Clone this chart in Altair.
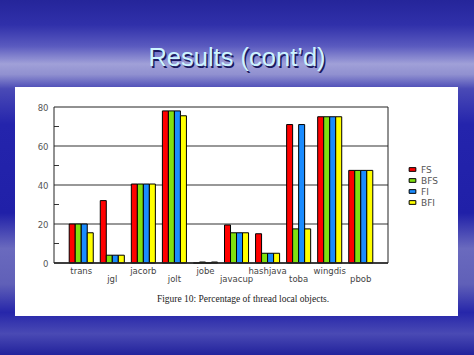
import altair as alt
import pandas as pd

categories = ["trans", "jgl", "jacorb", "jolt", "jobe", "javacup", "hashjava", "toba", "wingdis", "pbob"]
series = ["FS", "BFS", "FI", "BFI"]
fs_vals = [20, 32, 40.5, 78, 0, 19.5, 15, 71, 75, 47.5]
bfs_vals = [20, 4, 40.5, 78, 0.5, 15.5, 5, 17.5, 75, 47.5]
fi_vals = [20, 4, 40.5, 78, 0, 15.5, 5, 71, 75, 47.5]
bfi_vals = [15.5, 4, 40.5, 75.5, 0.5, 15.5, 5, 17.5, 75, 47.5]
colors = ["#ff0000", "#80e010", "#1a8cff", "#ffff00"]
y_ticks = [0, 20, 40, 60, 80]
grid_vals = [20, 40, 60]
minor_ticks = [10, 30, 50, 70]
title_text = "Results (cont\u2019d)"
caption_text = "Figure 10: Percentage of thread local objects."

W, H = 334, 156
PL, PT = 54, 107

rows = []
for s, vals in zip(series, [fs_vals, bfs_vals, fi_vals, bfi_vals]):
    for c, v in zip(categories, vals):
        rows.append({"cat": c, "series": s, "value": v})
df = pd.DataFrame(rows)

lab = pd.DataFrame({"cat": categories, "row": [i % 2 for i in range(len(categories))]})
one = pd.DataFrame({"a": [0]})

xscale = alt.Scale(domain=categories, paddingInner=0.226, paddingOuter=0.49)
yscale = alt.Scale(domain=[0, 80], nice=False)
yaxis = alt.Axis(values=y_ticks, grid=False, domain=False, ticks=False,
                 labelPadding=6, labelFont="DejaVu Sans", labelFontSize=8.5,
                 labelColor="#555555", title=None, zindex=1,
                 labelOverlap=False, labelFlush=False)

bg = alt.Chart(one).mark_rect(
    fill=alt.Gradient(
        gradient="linear", x1=0, x2=0, y1=0, y2=1,
        stops=[
            alt.GradientStop(offset=0, color="#25259a"),
            alt.GradientStop(offset=0.07, color="#3030aa"),
            alt.GradientStop(offset=0.13, color="#5a5abf"),
            alt.GradientStop(offset=0.18, color="#a0a0d8"),
            alt.GradientStop(offset=0.21, color="#9090d0"),
            alt.GradientStop(offset=0.25, color="#4a4ab6"),
            alt.GradientStop(offset=0.35, color="#2424ac"),
            alt.GradientStop(offset=0.6, color="#2020a8"),
            alt.GradientStop(offset=0.7, color="#6a6abe"),
            alt.GradientStop(offset=0.8, color="#6060b8"),
            alt.GradientStop(offset=0.88, color="#2626aa"),
            alt.GradientStop(offset=0.94, color="#4a4ab4"),
            alt.GradientStop(offset=1, color="#22229c"),
        ],
    )
).encode(x=alt.value(-PL), x2=alt.value(474 - PL), y=alt.value(-PT), y2=alt.value(355 - PT))

white = alt.Chart(one).mark_rect(fill="white").encode(
    x=alt.value(15 - PL), x2=alt.value(458 - PL), y=alt.value(87 - PT), y2=alt.value(316 - PT)
)

title_shadow = alt.Chart(pd.DataFrame({"t": [title_text]})).mark_text(
    font="Liberation Sans", fontSize=25.5, color="#1a1a60", align="center", baseline="middle"
).encode(text="t:N", x=alt.value(237 - PL + 1.5), y=alt.value(58 - PT + 1.5))
title_main = alt.Chart(pd.DataFrame({"t": [title_text]})).mark_text(
    font="Liberation Sans", fontSize=25.5, color="#cdf4ff", align="center", baseline="middle"
).encode(text="t:N", x=alt.value(237 - PL), y=alt.value(58 - PT))

caption = alt.Chart(pd.DataFrame({"t": [caption_text]})).mark_text(
    font="Liberation Serif", fontSize=9.5, color="#222222", align="center", baseline="middle"
).encode(text="t:N", x=alt.value(243 - PL), y=alt.value(299 - PT))

grid = alt.Chart(pd.DataFrame({"v": grid_vals})).mark_rule(color="#333333", strokeWidth=1.2).encode(
    y=alt.Y("v:Q", scale=yscale, axis=yaxis),
    x=alt.value(0), x2=alt.value(W),
)

minor = alt.Chart(pd.DataFrame({"v": minor_ticks})).mark_rule(color="#333333", strokeWidth=1).encode(
    y=alt.Y("v:Q", scale=yscale, axis=yaxis), x=alt.value(0), x2=alt.value(5)
)

bars = alt.Chart(df).mark_bar(stroke="black", strokeWidth=1).encode(
    x=alt.X("cat:N", scale=xscale, sort=categories, axis=None),
    xOffset=alt.XOffset("series:N", sort=series, scale=alt.Scale(domain=series)),
    y=alt.Y("value:Q", scale=yscale, axis=yaxis),
    color=alt.Color("series:N", sort=series, scale=alt.Scale(domain=series, range=colors),
                    legend=alt.Legend(title=None, orient="none", legendX=354, legendY=58,
                                      symbolType="M-1,-0.55H1V0.55H-1Z", symbolSize=45,
                                      symbolStrokeColor="black", symbolStrokeWidth=1,
                                      labelFont="DejaVu Sans", labelFontSize=9, labelColor="#555555",
                                      rowPadding=1, labelOffset=4)),
)

frame = alt.Chart(one).mark_rect(fill=None, stroke="#222222", strokeWidth=1).encode(
    x=alt.value(0), x2=alt.value(W), y=alt.value(0), y2=alt.value(H)
)
base_line = alt.Chart(one).mark_rule(color="#222222", strokeWidth=1.6).encode(
    x=alt.value(0), x2=alt.value(W), y=alt.value(H), y2=alt.value(H)
)

lab1 = alt.Chart(lab).transform_filter("datum.row == 0").mark_text(
    font="DejaVu Sans", fontSize=8.5, color="#444444", align="center", baseline="middle"
).encode(x=alt.X("cat:N", scale=xscale, sort=categories, bandPosition=0.5, axis=None),
         y=alt.value(271 - PT), text="cat:N")
lab2 = alt.Chart(lab).transform_filter("datum.row == 1").mark_text(
    font="DejaVu Sans", fontSize=8.5, color="#444444", align="center", baseline="middle"
).encode(x=alt.X("cat:N", scale=xscale, sort=categories, bandPosition=0.5, axis=None),
         y=alt.value(278.5 - PT), text="cat:N")

chart = alt.layer(
    bg, white, title_shadow, title_main, caption, grid, minor, bars, frame, base_line, lab1, lab2
).properties(
    width=W, height=H,
    autosize=alt.AutoSizeParams(type="none"),
    padding={"left": PL, "top": PT, "right": 474 - PL - W, "bottom": 355 - PT - H},
).configure_view(stroke=None)

chart.save("out.html", embed_options={"renderer": "svg", "actions": False})
